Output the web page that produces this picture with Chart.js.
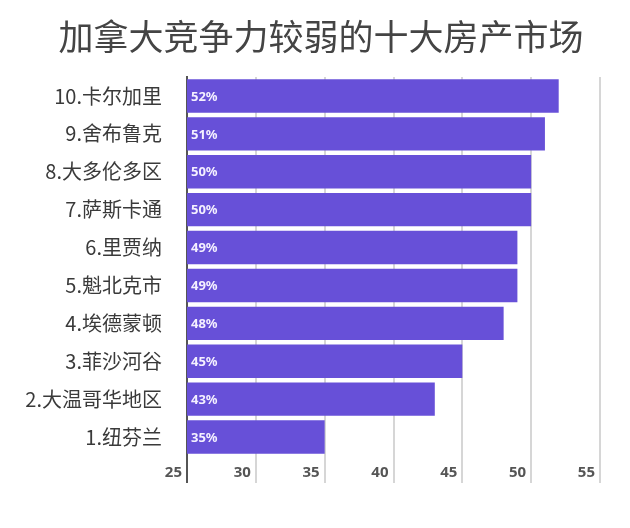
<!DOCTYPE html>
<html lang="zh-CN">
<head>
  <meta charset="UTF-8">
  <title>加拿大竞争力较弱的十大房产市场</title>
  <script src="https://cdn.jsdelivr.net/npm/chart.js"></script>
  <style>
    body {
      margin: 0;
      background: #ffffff;
    }
    #grafico {
      display: block;
    }
  </style>
</head>
<body>

  <canvas id="grafico" width="630" height="528"></canvas>

  <script>
    // dados
    const cidades = ['10.卡尔加里', '9.舍布鲁克', '8.大多伦多区', '7.萨斯卡通', '6.里贾纳',
                     '5.魁北克市', '4.埃德蒙顿', '3.菲沙河谷', '2.大温哥华地区', '1.纽芬兰'];
    const percentuais = [52, 51, 50, 50, 49, 49, 48, 45, 43, 35];
    const marcasX = [25, 30, 35, 40, 45, 50, 55];

    const roxo = '#6750d8';

    // escreve o "52%" dentro de cada barra
    const rotulosBarras = {
      id: 'rotulosBarras',
      afterDraw(chart) {
        const c = chart.ctx;
        const meta = chart.getDatasetMeta(0);
        const esquerda = chart.chartArea.left;
        c.save();
        c.font = 'bold 13px "Noto Sans", sans-serif';
        c.fillStyle = '#f4f0ff';
        c.textAlign = 'left';
        c.textBaseline = 'middle';
        meta.data.forEach((barra, i) => {
          c.fillText(percentuais[i] + '%', esquerda + 4, barra.y + 1);
        });
        c.restore();
      }
    };

    const ctx = document.getElementById('grafico').getContext('2d');
    new Chart(ctx, {
      type: 'bar',
      data: {
        labels: cidades,
        datasets: [{
          data: percentuais,
          backgroundColor: roxo,
          borderWidth: 0,
          barPercentage: 0.88,
          categoryPercentage: 1
        }]
      },
      options: {
        indexAxis: 'y',
        responsive: false,
        animation: false,
        layout: {
          padding: { left: 12, right: 0, top: 0, bottom: 0 }
        },
        plugins: {
          legend: { display: false },
          tooltip: { enabled: false },
          title: {
            display: true,
            text: '加拿大竞争力较弱的十大房产市场',
            color: '#444',
            font: { family: '"Noto Sans CJK SC", sans-serif', size: 35, weight: 'normal' },
            padding: { top: 16, bottom: 19 }
          }
        },
        scales: {
          x: {
            min: 25,
            max: 55,
            afterBuildTicks(scale) {
              scale.ticks = marcasX.map(v => ({ value: v }));
            },
            afterFit(scale) {
              scale.height = 72;
            },
            border: { display: false },
            grid: {
              color: (c) => c.index === 0 ? '#555' : '#d6d6d6',
              lineWidth: 2,
              drawTicks: true,
              tickLength: 27
            },
            ticks: {
              align: 'end',
              padding: -19,
              maxRotation: 0,
              autoSkip: false,
              color: '#555',
              font: { family: '"Noto Sans", sans-serif', size: 15, weight: 'bold' },
              callback: (v) => v + '\u2009\u2009'
            }
          },
          y: {
            afterFit(scale) {
              scale.width = 175;
            },
            border: { display: true, color: '#555', width: 2 },
            grid: { display: false, drawTicks: false },
            ticks: {
              padding: 25,
              color: '#3a3a3a',
              font: { family: '"Noto Sans CJK SC", sans-serif', size: 20, weight: 'normal' }
            }
          },
          // espaço vazio à direita da área do gráfico
          margemDireita: {
            type: 'linear',
            position: 'right',
            afterFit(scale) {
              scale.width = 30;
            },
            border: { display: false },
            grid: { display: false, drawTicks: false },
            ticks: { display: false }
          }
        }
      },
      plugins: [rotulosBarras]
    });
  </script>

</body>
</html>
